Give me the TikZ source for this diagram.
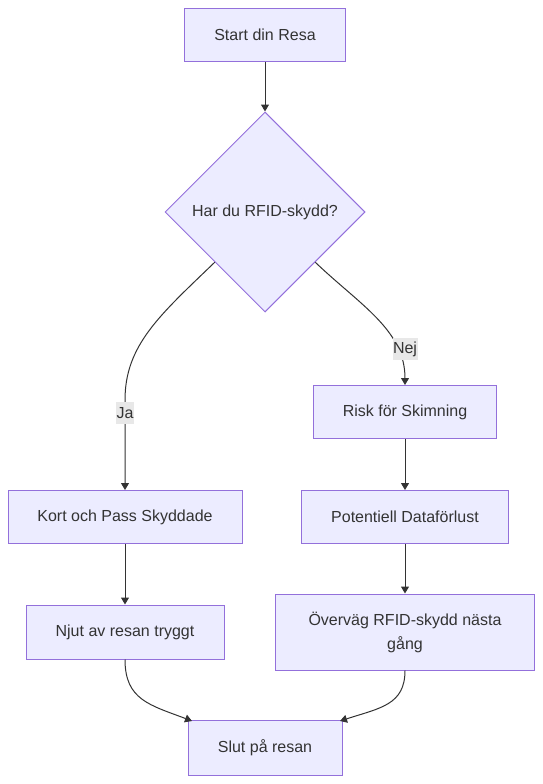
\documentclass[tikz,border=0pt]{standalone}
\usepackage{fontspec}
\setmainfont{Liberation Sans}
\usetikzlibrary{shapes.geometric,arrows.meta}
\definecolor{flowfill}{HTML}{ECECFF}
\definecolor{flowedge}{HTML}{9370DB}
\definecolor{flowtext}{HTML}{333333}
\definecolor{flowtag}{HTML}{E8E8E8}

\tikzset{
  flowbox/.style={draw=flowedge, fill=flowfill, text=flowtext, line width=1pt,
    inner sep=0pt, font=\fontsize{16}{24}\selectfont},
  flowdia/.style={flowbox, diamond, minimum width=200pt, minimum height=200pt},
  flowline/.style={draw=flowtext, line width=1pt, -{Triangle[length=7pt,width=8pt]}},
  flowlabel/.style={fill=flowtag, text=flowtext, inner xsep=0.5pt, minimum height=22pt,
    font=\fontsize{16}{24}\selectfont}
}

\begin{document}
\begin{tikzpicture}[x=1pt, y=-1pt]
\useasboundingbox (0,0) rectangle (543,784);

\node[flowbox, minimum width=161pt, minimum height=53pt] (start) at (265,35) {Start din Resa};
\node[flowdia] (fraga) at (265,212) {Har du RFID-skydd?};
\node[flowbox, minimum width=183pt, minimum height=53pt] (risk) at (405,412) {Risk för Skimning};
\node[flowbox, minimum width=234pt, minimum height=53pt] (kort) at (125,517) {Kort och Pass Skyddade};
\node[flowbox, minimum width=207pt, minimum height=53pt] (data) at (405,517) {Potentiell Dataförlust};
\node[flowbox, minimum width=198pt, minimum height=54pt] (njut) at (125,632) {Njut av resan tryggt};
\node[flowbox, minimum width=259pt, minimum height=76pt, align=center] (overvag) at (405,632) {Överväg RFID-skydd nästa\\gång};
\node[flowbox, minimum width=154pt, minimum height=55pt] (slut) at (265,748) {Slut på resan};

\draw[flowline] (start) -- (fraga);
\draw[flowline] (fraga.south west) .. controls (160,315) and (125,345) .. (125,400) -- (kort.north);
\draw[flowline] (fraga.south east) .. controls (360,305) and (405,330) .. (risk.north);
\draw[flowline] (kort) -- (njut);
\draw[flowline] (risk) -- (data);
\draw[flowline] (data) -- (overvag);
\draw[flowline] (njut.south) .. controls (125,700) and (150,705) .. (192,721);
\draw[flowline] (overvag.south) .. controls (405,705) and (380,708) .. (340,721);

\node[flowlabel] (ja) at (125,413) {Ja};
\node[flowlabel] (nej) at (405,349) {Nej};
\end{tikzpicture}
\end{document}
